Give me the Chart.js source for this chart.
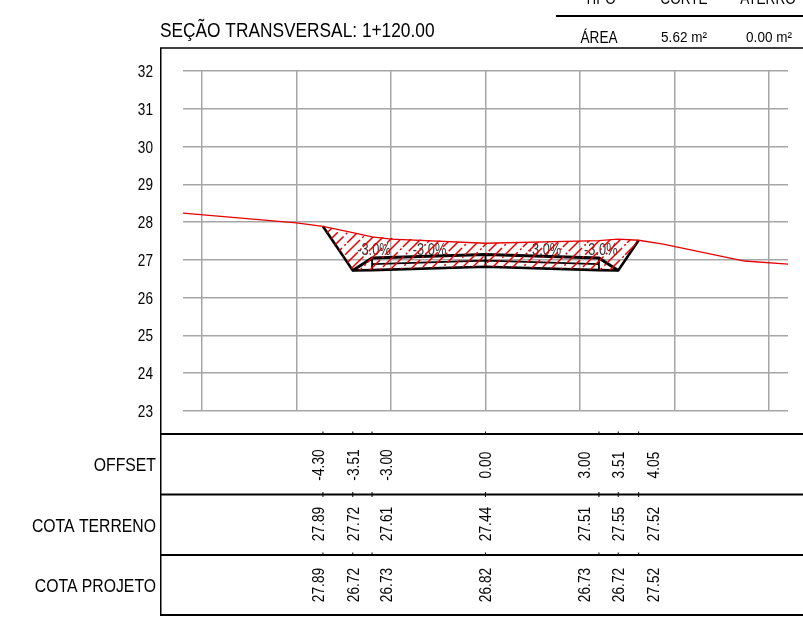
<!DOCTYPE html>
<html>
<head>
<meta charset="utf-8">
<script src="https://cdn.jsdelivr.net/npm/chart.js@4"></script>
<style>
  html, body { margin: 0; padding: 0; background: #fff; }
  #wrap { position: relative; width: 803px; height: 620px; overflow: hidden; }
</style>
</head>
<body>
<div id="wrap"><canvas id="secao" width="803" height="620"></canvas></div>
<script>
const gridX = [-7.5, -5, -2.5, 0, 2.5, 5, 7.5];

// stations shown in the table
const offsets = [-4.30, -3.51, -3.00, 0.00, 3.00, 3.51, 4.05];
const cotaTerreno = [27.89, 27.72, 27.61, 27.44, 27.51, 27.55, 27.52];
const cotaProjeto = [27.89, 26.72, 26.73, 26.82, 26.73, 26.72, 27.52];

// natural ground, whole width
const terrenoX = [-8, -5, -4.30, -3.51, -3.00, -2.5, 0, 3.00, 3.51, 4.05, 4.7, 6.85, 8];
const terrenoY = [28.24, 27.98, 27.89, 27.72, 27.61, 27.55, 27.44, 27.51, 27.55, 27.52, 27.42, 26.97, 26.89];

// pavement layers
const camadaX = [-3.51, -3.00, 0, 3.00, 3.51];
const camadaTopo = [26.72, 27.05, 27.14, 27.05, 26.72];
const camadaMeioX = [-3.00, 0, 3.00];
const camadaMeio = [26.89, 26.98, 26.89];
const divisaoX = [-3.00, 0, 3.00];

const slopeText = ["-3.0%", "-3.0%", "-3.0%", "-3.0%"];
const slopeX = [-2.95, -1.48, 1.56, 3.05];
const slopeY = [27.25, 27.25, 27.25, 27.25];

const rowLabels = ["OFFSET", "COTA TERRENO", "COTA PROJETO"];
const offsetText = ["-4.30", "-3.51", "-3.00", "0.00", "3.00", "3.51", "4.05"];
// the drawing pushes crowded labels sideways (pixels)
const labelShift = [-3, 2, 16, 1, -13, 1, 16];

const RED = "#e60000";
const FONT = '"Liberation Sans", Arial, sans-serif';

function pts(xs, ys) {
  return xs.map((x, i) => ({ x: x, y: ys[i] }));
}

function hatch() {
  const c = document.createElement("canvas");
  c.width = 40;
  c.height = 40;
  const g = c.getContext("2d");
  g.strokeStyle = RED;
  g.lineWidth = 1.5;
  g.setLineDash([21, 2, 2, 3.28]);
  // four dash phases so the gaps don't line up in bands
  const phases = [0, 11, 5, 17];
  for (let k = -80; k <= 160; k += 10) {
    g.lineDashOffset = phases[((k + 80) / 10) % 4];
    g.beginPath();
    g.moveTo(k + 80, -80);
    g.lineTo(k - 80, 80);
    g.stroke();
  }
  return document.getElementById("secao").getContext("2d").createPattern(c, "repeat");
}

function text(ctx, str, x, y, size, align, sx, color) {
  ctx.save();
  ctx.translate(x, y);
  ctx.scale(sx, 1);
  ctx.font = size + "px " + FONT;
  ctx.fillStyle = color || "#000";
  ctx.textAlign = align;
  ctx.textBaseline = "alphabetic";
  ctx.fillText(str, 0, 0);
  ctx.restore();
}

function vtext(ctx, str, x, y, size, sx) {
  ctx.save();
  ctx.translate(x, y);
  ctx.rotate(-Math.PI / 2);
  ctx.scale(sx, 1);
  ctx.font = size + "px " + FONT;
  ctx.fillStyle = "#000";
  ctx.textAlign = "center";
  ctx.textBaseline = "middle";
  ctx.fillText(str, 0, 0);
  ctx.restore();
}

function hline(ctx, x1, x2, y, w) {
  ctx.fillStyle = "#000";
  ctx.fillRect(x1, y - w / 2, x2 - x1, w);
}

const tablePlugin = {
  id: "tablePlugin",
  beforeDatasetsDraw(chart) {
    const ctx = chart.ctx;
    const sx = chart.scales.x, sy = chart.scales.y;
    slopeText.forEach((t, i) => {
      text(ctx, t, sx.getPixelForValue(slopeX[i]), sy.getPixelForValue(slopeY[i]) + 5, 16, "center", 0.8, "#333");
    });
  },
  afterDraw(chart) {
    const ctx = chart.ctx;
    const sx = chart.scales.x, sy = chart.scales.y;

    // y tick labels, condensed like the drawing
    sy.ticks.forEach(t => {
      text(ctx, String(t.value), 153, sy.getPixelForValue(t.value) + 6, 16, "right", 0.85);
    });

    // title and area table
    text(ctx, "SEÇÃO TRANSVERSAL: 1+120.00", 160, 37, 20, "left", 0.865);
    text(ctx, "TIPO", 600, 4, 16, "center", 0.85);
    text(ctx, "CORTE", 684, 4, 16, "center", 0.85);
    text(ctx, "ATERRO", 768, 4, 16, "center", 0.85);
    text(ctx, "ÁREA", 599, 43, 16, "center", 0.85);
    text(ctx, "5.62 m²", 684, 42, 15, "center", 0.9);
    text(ctx, "0.00 m²", 769, 42, 15, "center", 0.9);
    hline(ctx, 556, 803, 16, 2);

    // frame
    hline(ctx, 160, 803, 48, 1.5);
    hline(ctx, 160, 803, 434, 2);
    hline(ctx, 160, 803, 494.5, 2);
    hline(ctx, 160, 803, 555, 2);
    hline(ctx, 160, 803, 615, 2);
    ctx.fillRect(160, 48, 1.5, 568);

    const rows = [offsetText, cotaTerreno.map(v => v.toFixed(2)), cotaProjeto.map(v => v.toFixed(2))];
    const centers = [465, 524, 585];
    const baselines = [471, 532, 592];
    rows.forEach((vals, r) => {
      text(ctx, rowLabels[r], 156, baselines[r], 19, "right", 0.83);
      vals.forEach((v, i) => {
        vtext(ctx, v, sx.getPixelForValue(offsets[i]) + labelShift[i], centers[r], 16, 0.86);
      });
    });

    // little ticks on the row lines
    ctx.fillStyle = "#000";
    offsets.forEach(o => {
      const x = sx.getPixelForValue(o);
      ctx.fillRect(x - 0.5, 431.5, 1, 2);
      ctx.fillRect(x - 0.5, 492, 1, 5);
      ctx.fillRect(x - 0.5, 552.5, 1, 2);
    });
  }
};

const datasets = [
  // 0: design line, also the lower edge of the cut hatch
  { data: pts(offsets, cotaProjeto), borderColor: "#000", borderWidth: 2.6, pointRadius: 0, fill: false, order: 3 },
  { data: pts(camadaX, camadaTopo), borderColor: "#000", borderWidth: 3, pointRadius: 0, fill: false, order: 3 },
  { data: pts(camadaMeioX, camadaMeio), borderColor: "#000", borderWidth: 1.8, pointRadius: 0, fill: false, order: 3 }
];

divisaoX.forEach(x => {
  const i = camadaX.indexOf(x);
  const j = offsets.indexOf(x);
  datasets.push({
    data: [{ x: x, y: camadaTopo[i] }, { x: x, y: cotaProjeto[j] }],
    borderColor: "#000", borderWidth: 1.8, pointRadius: 0, fill: false, order: 3
  });
});

datasets.push({ data: pts(terrenoX, terrenoY), borderColor: RED, borderWidth: 1.3, pointRadius: 0, fill: false, order: 2 });
// cut area: terrain at the stations down to the design line
datasets.push({
  data: pts(offsets, cotaTerreno.map((v, i) => (i === 0 || i === 6) ? cotaProjeto[i] : v)),
  borderColor: "rgba(0,0,0,0)", borderWidth: 0, pointRadius: 0,
  backgroundColor: hatch(), fill: { target: 0 }, order: 1
});

new Chart(document.getElementById("secao"), {
  type: "line",
  data: { datasets: datasets },
  options: {
    responsive: false,
    animation: false,
    layout: { padding: { left: 0, right: 15, top: 71, bottom: 209 } },
    plugins: {
      legend: { display: false },
      tooltip: { enabled: false }
    },
    scales: {
      x: {
        type: "linear",
        min: -8,
        max: 8,
        afterBuildTicks(scale) { scale.ticks = gridX.map(v => ({ value: v })); },
        afterFit(scale) { scale.height = 0; },
        ticks: { display: false },
        grid: { color: "#a6a6a6", lineWidth: 1.5, drawTicks: false },
        border: { display: false }
      },
      y: {
        min: 23,
        max: 32,
        afterFit(scale) { scale.width = 183; },
        ticks: { stepSize: 1, display: false },
        grid: { color: "#a6a6a6", lineWidth: 1.5, drawTicks: false },
        border: { display: false }
      }
    }
  },
  plugins: [tablePlugin]
});
</script>
</body>
</html>
